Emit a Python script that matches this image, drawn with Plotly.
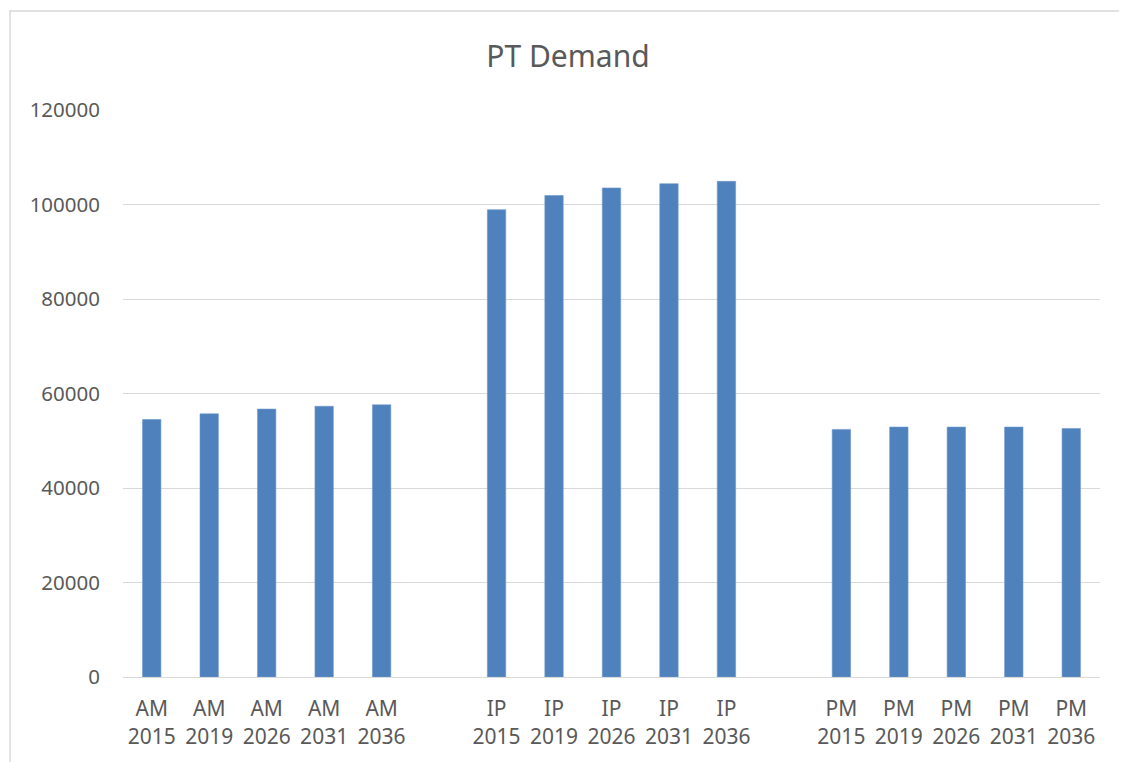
import plotly.graph_objects as go

periods = ["AM", "IP", "PM"]
years = ["2015", "2019", "2026", "2031", "2036"]
am_values = [54500, 55700, 56700, 57300, 57600]
ip_values = [98900, 101900, 103500, 104400, 104900]
pm_values = [52400, 52900, 52900, 52900, 52600]
y_ticks = [0, 20000, 40000, 60000, 80000, 100000, 120000]

series = [am_values, ip_values, pm_values]
xs, ys, tickvals, ticktext = [], [], [], []
for g, (p, vals) in enumerate(zip(periods, series)):
    for i, (yr, v) in enumerate(zip(years, vals)):
        pos = g * (len(years) + 1) + i
        xs.append(pos)
        ys.append(v)
        tickvals.append(pos)
        ticktext.append(f"{p}<br>{yr}")

n_slots = len(periods) * (len(years) + 1) - 1

fig = go.Figure(go.Bar(
    x=xs, y=ys,
    marker=dict(color="#4F81BD", line=dict(color="#6f98cc", width=0.6)),
    width=0.32,
))

# page has an 8px body margin; figure is sized so that the plot area lands at
# page x 123..1100, y 110..677
fig.update_layout(
    width=1119, height=754,
    margin=dict(l=115, r=27, t=102, b=85),
    paper_bgcolor="white", plot_bgcolor="white",
    font=dict(family="Noto Sans, Open Sans, sans-serif", color="#595959", size=20),
    title=dict(text="PT Demand", x=(568 - 8) / 1119, xanchor="center",
               y=1 - (56 - 8) / 754, yanchor="middle",
               font=dict(size=30, color="#595959")),
    showlegend=False,
    xaxis=dict(
        range=[-0.5, n_slots - 0.5],
        tickvals=tickvals, ticktext=ticktext,
        showgrid=False, zeroline=False,
        showline=True, linecolor="#d9d9d9", linewidth=1,
        ticks="", ticklabelstandoff=13,
        tickfont=dict(size=21, color="#595959"),
    ),
    yaxis=dict(
        range=[0, 120000],
        tickvals=y_ticks,
        tickformat="d",
        showgrid=True, gridcolor="#d9d9d9", gridwidth=1,
        zeroline=False, showline=False, ticks="",
        ticklabelstandoff=22,
        tickfont=dict(size=20.5, color="#595959"),
    ),
    shapes=[dict(type="rect", xref="paper", yref="paper",
                 x0=(10 - 123) / 977, x1=(1126 - 123) / 977,
                 y0=-0.2, y1=(677 - 11) / 567,
                 line=dict(color="#d9d9d9", width=1.5), fillcolor="rgba(0,0,0,0)",
                 layer="below")],
)

fig.write_html("out.html")
